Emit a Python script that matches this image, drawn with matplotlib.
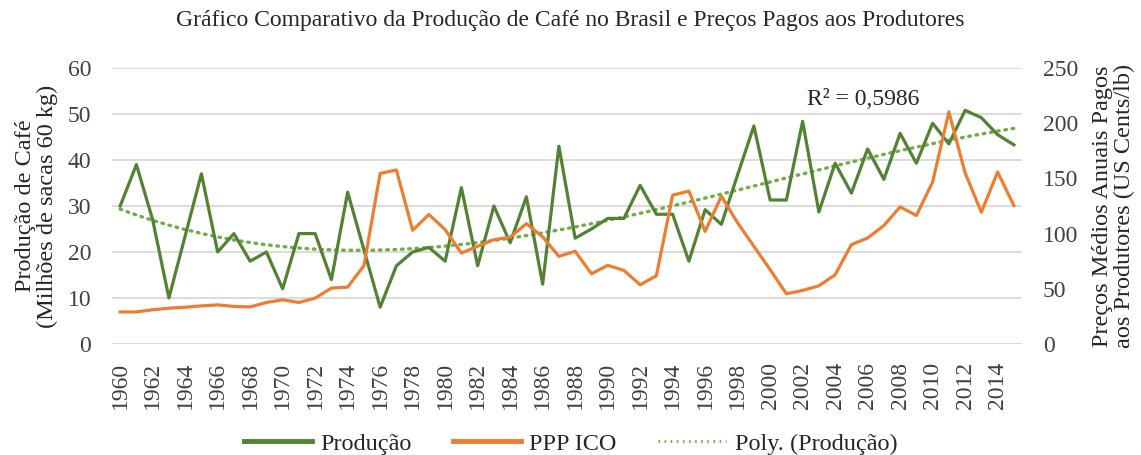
import numpy as np
import matplotlib.pyplot as plt
from matplotlib.lines import Line2D

years = list(range(1960, 2016))
producao = [30, 39, 27, 10, 23.5, 37, 20, 24, 18, 20,
            12, 24, 24, 14, 33, 20.5, 8, 17, 20, 21,
            18, 34, 17, 30, 22, 32, 13, 43, 23, 25,
            27.3, 27.3, 34.5, 28.2, 28.2, 18, 29.2, 26, 36.8, 47.4,
            31.3, 31.3, 48.4, 28.7, 39.3, 32.8, 42.4, 35.8, 45.8, 39.3,
            48, 43.5, 50.8, 49.2, 45.5, 43.3]
ppp_ico = [29, 29, 31, 32.4, 33.3, 34.5, 35.4, 34, 33.6, 37.6,
           40, 37.6, 41.5, 50.6, 51.5, 70.9, 154.5, 157.6, 103, 117.3,
           103.6, 82.4, 88.5, 94.5, 96.7, 109, 97, 79.4, 84, 63.6,
           71.2, 66.7, 53.6, 61.8, 134.8, 138.5, 102, 133.9, 109.7, 88.5,
           67.3, 45.5, 48.5, 52.7, 62.7, 90, 96, 107.3, 124.2, 116.4,
           146.7, 210.3, 155, 119.4, 155.8, 125.5]

verde = "#548235"
laranja = "#ED7D31"
verde_claro = "#70AD47"
cinza = "#404040"

plt.rcParams['font.family'] = "Liberation Serif"

x = np.arange(len(years))
# linha de tendencia polinomial (ordem 3), como a do Excel
coef = np.polyfit(x + 1, np.array(producao), 3)
tend = np.polyval(coef, x + 1)

fig = plt.figure(figsize=(11.41, 4.55), dpi=100)
ax = fig.add_axes([0.0982, 0.244, 0.7975, 0.6065])
ax2 = ax.twinx()

ax.plot(x, producao, color=verde, lw=2.3, zorder=3)
ax.plot(x, tend, color=verde_claro, lw=2.4, ls=(0, (0.5, 1.7)), dash_capstyle="round", zorder=2)
ax2.plot(x, ppp_ico, color=laranja, lw=2.3, zorder=3)

ax.set_xlim(-0.5, len(years) - 0.5)
ax.set_ylim(0, 60)
ax.set_yticks(range(0, 61, 10))
ax2.set_ylim(0, 250)
ax2.set_yticks(range(0, 251, 50))
ax.set_xticks(x[::2])
ax.set_xticklabels([str(a) for a in years[::2]], rotation=90)
ax.grid(axis="y", color="#D9D9D9", lw=1.3)
ax.set_axisbelow(True)
for a in (ax, ax2):
    for s in a.spines.values():
        s.set_visible(False)
    a.tick_params(length=0, labelsize=17, colors=cinza)
ax.tick_params(axis="y", pad=15)
ax2.tick_params(axis="y", pad=15)
ax.tick_params(axis="x", pad=13)

ax.set_ylabel("Produção de Café\n(Milhões de sacas 60 kg)", fontsize=17.5, color="#262626",
              linespacing=1.05)
ax.yaxis.set_label_coords(-0.059, 0.5)
ax2.set_ylabel("Preços Médios Anuais Pagos\naos Produtores (US Cents/lb)", fontsize=17.5,
               color="#262626", linespacing=1.05)
ax2.yaxis.set_label_coords(1.077, 0.5)
fig.text(0.5, 0.955, "Gráfico Comparativo da Produção de Café no Brasil e Preços Pagos aos Produtores",
         fontsize=17, ha="center", va="center", color="#262626")
ax.text(45.7, 53.1, "R² = 0,5986", fontsize=17, ha="center", va="center", color="#262626")

hs = [Line2D([], [], color=verde, lw=3.5),
      Line2D([], [], color=laranja, lw=3.5),
      Line2D([], [], color=verde_claro, lw=2.2, ls=(0, (0.5, 1.5)))]
fig.legend(hs, ["Produção", "PPP ICO", "Poly. (Produção)"], loc="center",
           bbox_to_anchor=(0.5, 0.025), ncol=3, frameon=False, fontsize=17.5,
           handlelength=2.8, handletextpad=0.35, columnspacing=1.7,
           labelcolor="#262626")

fig.savefig("out.png", dpi=100)
